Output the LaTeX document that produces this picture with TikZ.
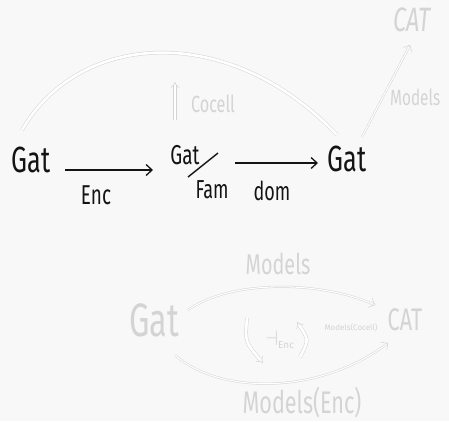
\documentclass[tikz,border=0pt]{standalone}
\usepackage{fontspec}
\usepackage{graphicx}
\setmainfont{Fira Sans}
\usetikzlibrary{arrows.meta}
\definecolor{paper}{RGB}{248,248,248}
\definecolor{ink}{RGB}{20,20,20}
\definecolor{ghost}{RGB}{212,212,212}
% narrow, tall lettering
\newcommand{\tall}[1]{\scalebox{0.9}[1.3]{#1}}
\tikzset{
  lbl/.style={inner sep=0pt, text=ink},
  ghosttext/.style={inner sep=0pt, text=ghost},
  arr/.style={draw=ink, line width=1.4pt, -{Straight Barb[length=6pt,width=11pt,line width=1.3pt]}},
  ghostline/.style={draw=ghost, line width=0.5pt, double=white, double distance=1.1pt},
  ghostcell/.style={draw=ghost, line width=0.5pt, double=white, double distance=2.6pt},
  ghostarr/.style={ghostline, -{Straight Barb[length=5pt,width=10pt]}},
  ghostcellarr/.style={ghostcell, -{Implies[length=5pt]}},
}
\begin{document}
\begin{tikzpicture}[x=1pt,y=-1pt]
\useasboundingbox[fill=paper] (0,0) rectangle (449,421);

% upper row: the composite of encoding and domain
\node[lbl, font=\fontsize{28}{28}\selectfont] (gL) at (31,160) {\tall{Gat}};
\node[lbl, font=\fontsize{21}{21}\selectfont] (gM) at (185,155) {\tall{Gat}};
\node[lbl, font=\fontsize{28}{28}\selectfont] (gR) at (347,159) {\tall{Gat}};
\node[lbl, font=\fontsize{20}{20}\selectfont] (fam) at (212,190) {\tall{Fam}};
\coordinate (slA) at (218,153);
\coordinate (slB) at (188,177);
\draw[ink, line width=1.4pt] (slA) -- (slB);

\coordinate (encS) at (65,170);
\coordinate (encT) at (153,170);
\draw[arr] (encS) -- (encT);
\node[lbl, font=\fontsize{21}{21}\selectfont] (enc) at (96,195) {\tall{Enc}};

\coordinate (domS) at (235,163);
\coordinate (domT) at (318,163);
\draw[arr] (domS) -- (domT);
\node[lbl, font=\fontsize{20}{20}\selectfont] (dom) at (272,191) {\tall{dom}};

% faint identity arc and the cocell 2-cell
\coordinate (arcS) at (22,130);
\coordinate (arcT) at (337,135);
\draw[ghostcell] (arcS) .. controls (80,30) and (230,22) .. (arcT);
\coordinate (cocS) at (175,120);
\coordinate (cocT) at (175,82);
\draw[ghostcellarr] (cocS) -- (cocT);
\node[ghosttext, font=\fontsize{18}{18}\selectfont] (cocell) at (213,104) {\tall{Cocell}};

% faint models functor to CAT
\node[ghosttext, font=\fontsize{26}{26}\selectfont\itshape] (catT) at (412,20) {\tall{CAT}};
\coordinate (modS) at (362,137);
\coordinate (modT) at (410,45);
\draw[ghostarr] (modS) -- (modT);
\node[ghosttext, font=\fontsize{17}{17}\selectfont, anchor=west] (modR) at (390,97) {\tall{Models}};

% lower faint square: two functors Gat -> CAT
\node[ghosttext, font=\fontsize{36}{36}\selectfont] (gB) at (154,320) {\tall{Gat}};
\node[ghosttext, font=\fontsize{24}{24}\selectfont] (catB) at (405,320) {\tall{CAT}};
\coordinate (topS) at (188,310);
\coordinate (topT) at (375,305);
\draw[ghostarr] (topS) .. controls (230,280) and (320,280) .. (topT);
\node[ghosttext, font=\fontsize{22}{22}\selectfont] (modTop) at (278,264) {\tall{Models}};
\coordinate (botS) at (175,355);
\coordinate (botT) at (388,343);
\draw[ghostarr] (botS) .. controls (220,395) and (320,395) .. (botT);
\node[ghosttext, font=\fontsize{24}{24}\selectfont] (modEnc) at (302,403) {\tall{Models(Enc)}};

\coordinate (lcS) at (247,318);
\coordinate (lcT) at (263,363);
\draw[ghostcellarr] (lcS) .. controls (245,342) .. (lcT);
\node[ghosttext, font=\fontsize{20}{20}\selectfont] (adj) at (280,340) {$\dashv_{\scriptscriptstyle\mathrm{Enc}}$};
\coordinate (rcS) at (300,357);
\coordinate (rcT) at (297,322);
\draw[ghostcellarr] (rcS) .. controls (309,340) .. (rcT);
\node[ghosttext, font=\fontsize{8}{8}\selectfont] (modCoc) at (351,328) {Models(Cocell)};
\end{tikzpicture}
\end{document}
